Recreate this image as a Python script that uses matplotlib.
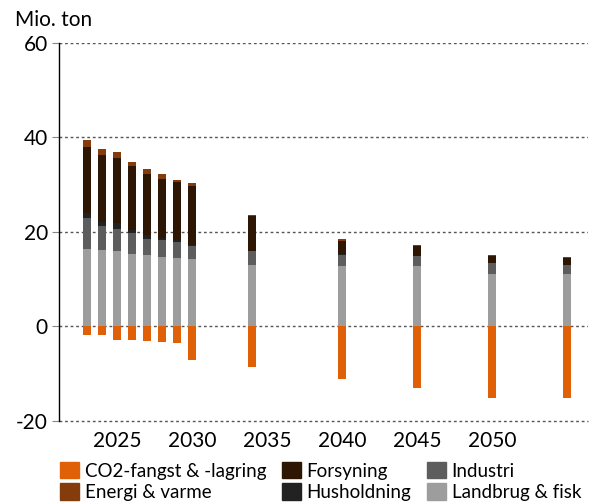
import matplotlib.pyplot as plt
from matplotlib.patches import Patch

plt.rcParams['font.family'] = ['Lato', 'DejaVu Sans']
plt.rcParams['axes.unicode_minus'] = False

years = [2023, 2024, 2025, 2026, 2027, 2028, 2029, 2030, 2034, 2040, 2045, 2050, 2055]
landbrug = [16.5, 16.1, 15.9, 15.4, 15.2, 14.8, 14.6, 14.2, 13.1, 12.7, 12.7, 11.1, 11.1]
industri = [6.4, 5.1, 4.8, 4.3, 3.4, 3.4, 3.2, 2.9, 2.8, 2.5, 2.3, 2.4, 2.0]
husholdning = [1.2, 1.0, 1.3, 0.8, 0.7, 0.6, 0.4, 0.2, 0.1, 0.2, 0.0, 0.0, 0.0]
forsyning = [13.8, 14.0, 13.6, 13.4, 12.9, 12.5, 12.3, 12.5, 7.4, 2.7, 2.1, 1.5, 1.3]
energi = [1.5, 1.3, 1.4, 1.0, 1.2, 0.9, 0.4, 0.5, 0.3, 0.4, 0.2, 0.2, 0.4]
co2 = [-1.7, -1.7, -2.8, -2.8, -3.0, -3.2, -3.4, -7.0, -8.5, -11.1, -13.0, -15.1, -15.1]

series = [
    ('Landbrug & fisk', landbrug, '#9d9d9d'),
    ('Industri', industri, '#5d5d5d'),
    ('Husholdning', husholdning, '#222222'),
    ('Forsyning', forsyning, '#2d1603'),
    ('Energi & varme', energi, '#843c0c'),
]
co2_color = '#e06008'

fig = plt.figure(figsize=(5.94, 5.04), dpi=100)
ax = fig.add_axes([0.0993, 0.1647, 0.8907, 0.75])

width = 0.55
bottom = [0.0] * len(years)
for name, vals, col in series:
    ax.bar(years, vals, width, bottom=bottom, color=col, zorder=3)
    bottom = [b + v for b, v in zip(bottom, vals)]
ax.bar(years, co2, width, color=co2_color, zorder=3)

ax.set_xlim(2021.13, 2056.4)
ax.set_ylim(-20, 60)
ax.set_yticks([-20, 0, 20, 40, 60])
ax.set_xticks([2025, 2030, 2035, 2040, 2045, 2050])
ax.tick_params(axis='x', length=0, labelsize=15, pad=7)
ax.tick_params(axis='y', length=5, color='#888888', labelsize=15, pad=3)

for y in [0, 20, 40, 60]:
    ax.axhline(y, color='#555555', lw=1, ls=(0, (2, 2)), zorder=1)
for s in ['top', 'right', 'bottom']:
    ax.spines[s].set_visible(False)
ax.axhline(-20, color='#555555', lw=1, ls=(0, (2, 2)), zorder=1, clip_on=False)
ax.spines['left'].set_color('black')
ax.spines['left'].set_linewidth(1)

fig.text(0.025, 0.96, 'Mio. ton', fontsize=15, ha='left', va='center')

handles = [
    Patch(color=co2_color, label='CO2-fangst & -lagring'),
    Patch(color='#843c0c', label='Energi & varme'),
    Patch(color='#2d1603', label='Forsyning'),
    Patch(color='#222222', label='Husholdning'),
    Patch(color='#5d5d5d', label='Industri'),
    Patch(color='#9d9d9d', label='Landbrug & fisk'),
]
fig.legend(handles=handles, loc='lower left', bbox_to_anchor=(0.1, 0.004), ncol=3,
           frameon=False, fontsize=13.5, handlelength=1.0, handleheight=0.96,
           handletextpad=0.3, columnspacing=0.85, labelspacing=0.2, borderaxespad=0,
           borderpad=0.05)

fig.savefig('out.png', dpi=100)
